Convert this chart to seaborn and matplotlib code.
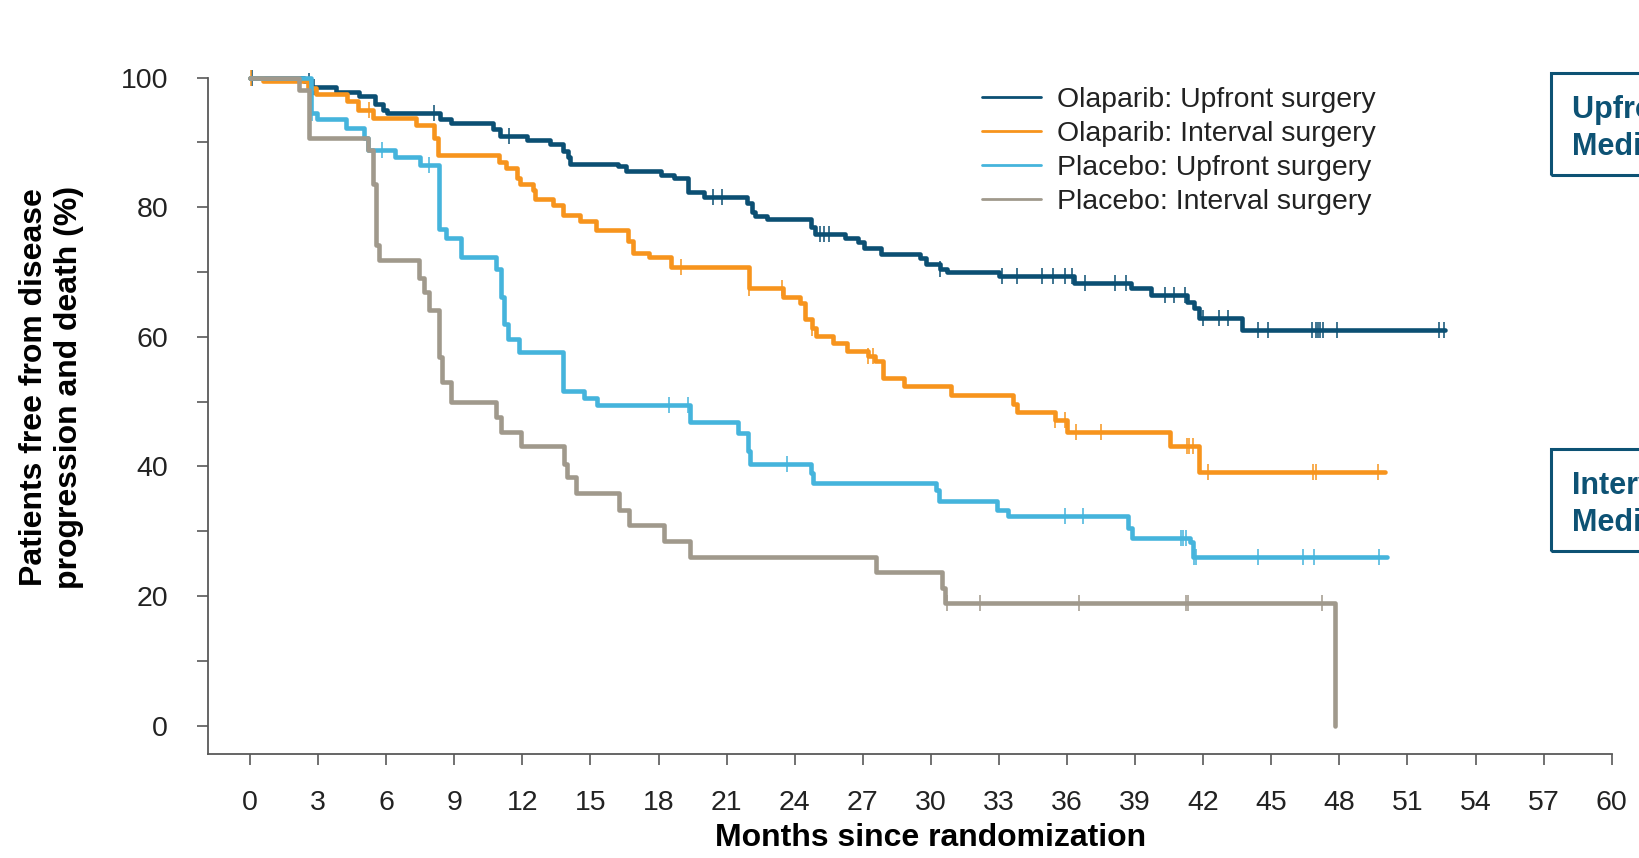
import numpy as np
import pandas as pd
import matplotlib
matplotlib.use("Agg")
import matplotlib.pyplot as plt
import seaborn as sns
from matplotlib.patches import Rectangle
from matplotlib.lines import Line2D

# ---------------- data ----------------
series_names = ["Olaparib: Upfront surgery", "Olaparib: Interval surgery",
                "Placebo: Upfront surgery", "Placebo: Interval surgery"]

ola_up_t = [0, 2.4, 2.7, 3.8, 4.8, 5.5, 5.85, 6.05, 8.35, 8.85, 10.7, 11.0, 12.2, 13.2, 13.8,
            14.0, 14.1, 16.2, 16.55, 18.1, 18.7, 19.3, 20.0, 21.9, 22.1, 22.25, 22.8, 24.7, 24.9,
            26.2, 26.8, 27.05, 27.8, 29.5, 29.8, 30.4, 30.7, 33.0, 36.3, 38.8, 39.7, 41.3, 41.6,
            41.8, 43.7, 52.65]
ola_up_s = [100, 99.4, 98.5, 97.7, 97.1, 95.9, 95.0, 94.5, 93.6, 93.0, 92.0, 90.9, 90.4, 89.7,
            88.7, 87.7, 86.6, 86.3, 85.6, 85.0, 84.5, 82.4, 81.5, 80.6, 79.3, 78.6, 78.2, 77.0,
            75.8, 75.3, 74.6, 73.7, 72.7, 72.2, 71.3, 70.4, 70.0, 69.4, 68.3, 67.5, 66.5, 65.4,
            64.5, 62.9, 61.0, 61.0]
ola_up_cens = [0.1, 2.6, 2.8, 8.1, 11.4, 20.4, 20.8, 25.1, 25.3, 25.5, 30.4, 33.15, 33.8, 34.9,
               35.4, 35.9, 36.2, 36.8, 38.1, 38.6, 40.3, 40.7, 41.2, 42.0, 42.7, 43.1, 44.4, 44.85,
               46.8, 46.95, 47.05, 47.15, 47.3, 47.9, 52.4, 52.6]

ola_int_t = [0, 0.56, 2.55, 2.9, 4.27, 4.74, 5.4, 7.31, 8.12, 8.27, 10.98, 11.28, 11.76, 11.91,
             12.45, 12.55, 13.33, 13.78, 14.55, 15.24, 16.64, 16.86, 17.6, 18.55, 21.98, 23.5,
             24.23, 24.47, 24.76, 24.93, 25.67, 26.3, 27.25, 27.56, 27.88, 28.83, 30.87, 33.6,
             33.78, 35.47, 36.0, 40.53, 41.83, 50.0]
ola_int_s = [100, 99.5, 98.4, 97.4, 96.4, 95.0, 93.7, 92.7, 90.6, 88.0, 86.9, 86.0, 84.5, 83.5,
             82.6, 81.2, 80.3, 78.8, 77.9, 76.5, 74.8, 73.0, 72.3, 70.8, 67.5, 66.2, 65.2, 62.8,
             61.4, 60.1, 59.0, 57.8, 57.0, 56.2, 53.6, 52.4, 51.0, 49.7, 48.4, 47.2, 45.3, 43.1,
             39.1, 39.1]
ola_int_cens = [0.05, 5.26, 19.0, 21.98, 23.45, 24.76, 27.25, 27.46, 35.47, 35.9, 36.4, 37.5,
                41.27, 41.37, 41.54, 42.2, 46.85, 46.96, 49.7]

pla_up_t = [0, 2.7, 2.95, 4.23, 5.04, 5.18, 6.4, 7.5, 8.34, 8.63, 9.3, 10.83, 11.05, 11.2, 11.35,
            11.87, 13.77, 14.7, 15.3, 19.4, 21.51, 21.95, 22.04, 24.71, 24.82, 30.22, 30.37, 32.9,
            33.4, 38.7, 38.85, 41.4, 41.55, 50.1]
pla_up_s = [100, 94.5, 93.6, 92.2, 90.6, 88.8, 87.8, 86.5, 76.7, 75.2, 72.3, 70.5, 66.1, 62.0,
            59.7, 57.7, 51.7, 50.5, 49.5, 46.8, 45.2, 42.4, 40.3, 39.0, 37.5, 36.4, 34.7, 33.2,
            32.3, 30.5, 29.0, 28.4, 26.1, 26.1]
pla_up_cens = [2.75, 5.8, 7.9, 18.47, 19.3, 23.65, 35.9, 36.7, 41.0, 41.1, 41.25, 41.6, 41.7,
               44.4, 46.4, 46.9, 49.76]

pla_int_t = [0, 2.17, 2.61, 5.18, 5.4, 5.55, 5.7, 7.46, 7.65, 7.9, 8.31, 8.44, 8.85, 10.84,
             11.05, 11.94, 13.82, 13.95, 14.36, 16.27, 16.71, 18.22, 19.40, 27.58, 30.47, 30.62,
             47.8]
pla_int_s = [100, 98.1, 90.6, 88.8, 83.5, 74.1, 71.8, 69.1, 66.9, 64.1, 56.9, 53.0, 50.0, 47.6,
             45.3, 43.2, 40.4, 38.3, 35.9, 33.3, 30.9, 28.5, 26.1, 23.7, 21.3, 19.0, 0.0]
pla_int_cens = [30.72, 32.17, 36.54, 41.24, 41.32, 47.25]

x_ticks = list(range(0, 61, 3))
y_ticks = [0, 20, 40, 60, 80, 100]
y_minor_ticks = [10, 30, 50, 70, 90]

box_titles = ["Upfront surgery", "Interval surgery"]
box_sub = ["Median PFS", "Median PFS"]

colors = ["#0b4f73", "#f7941d", "#45b4dc", "#a0998c"]
box_color = "#0d5274"

curves = [
    (ola_up_t, ola_up_s, ola_up_cens),
    (ola_int_t, ola_int_s, ola_int_cens),
    (pla_up_t, pla_up_s, pla_up_cens),
    (pla_int_t, pla_int_s, pla_int_cens),
]

# ---------------- style ----------------
sns.set_style("ticks")
plt.rcParams["font.family"] = ["Liberation Sans", "DejaVu Sans"]

W, H = 1640, 858
fig = plt.figure(figsize=(W / 100, H / 100), dpi=100)
ax = fig.add_axes([208.5 / W, 1 - 754 / H, (1611.7 - 208.5) / W, (754 - 77.5) / H])

# draw in reverse so Olaparib upfront sits on top
for i in [3, 2, 1, 0]:
    t, s, cens = curves[i]
    df = pd.DataFrame({"time": t, "surv": s})
    sns.lineplot(data=df, x="time", y="surv", ax=ax, color=colors[i], linewidth=3.3,
                 drawstyle="steps-post", estimator=None, legend=False,
                 clip_on=False, zorder=3 + i)
    t_arr = np.asarray(t)
    s_arr = np.asarray(s)
    idx = np.searchsorted(t_arr, np.asarray(cens), side="right") - 1
    cdf = pd.DataFrame({"time": cens, "surv": s_arr[idx]})
    sns.scatterplot(data=cdf, x="time", y="surv", ax=ax, marker="|", s=120,
                    linewidth=1.1, color=colors[i], legend=False, clip_on=False,
                    zorder=3 + i)

ax.set_xlim(-1.83, 60)
ax.set_ylim(-4.37, 100)
ax.set_xticks(x_ticks)
ax.set_xticklabels([str(v) for v in x_ticks])
ax.set_yticks(y_ticks)
ax.set_yticklabels([str(v) for v in y_ticks])
ax.set_yticks(y_minor_ticks, minor=True)

for side in ["top", "right"]:
    ax.spines[side].set_visible(False)
for side in ["left", "bottom"]:
    ax.spines[side].set_color("#595959")
    ax.spines[side].set_linewidth(1.3)

ax.tick_params(axis="both", which="both", direction="out", length=8, width=1.2,
               color="#595959", labelcolor="#222222", labelsize=20.5)
ax.tick_params(axis="x", which="both", pad=18)
ax.tick_params(axis="y", which="both", pad=21)

ax.set_xlabel("Months since randomization", fontsize=23, fontweight="bold", color="black")
ax.xaxis.set_label_coords(0.5146, -0.102)
ax.set_ylabel("Patients free from disease\nprogression and death (%)", fontsize=23,
              fontweight="bold", color="black")
ax.yaxis.set_label_coords(-0.089, 0.542)

handles = [Line2D([0], [0], color=c, lw=2.0) for c in colors]
leg = ax.legend(handles, series_names, loc="upper left",
                bbox_to_anchor=(982 / W, 1 - 87 / H), bbox_transform=fig.transFigure,
                frameon=False, fontsize=20.4, handlelength=2.08, handletextpad=0.56,
                labelspacing=0.28, borderpad=0, borderaxespad=0)
for txt in leg.get_texts():
    txt.set_color("#222222")

# boxes at the right (cut by figure edge as in the reference)
box_tops = [73, 449]
for k, top in enumerate(box_tops):
    rect = Rectangle((1551 / W, 1 - (top + 102) / H), 0.2, 102 / H, transform=fig.transFigure,
                     fill=False, edgecolor=box_color, lw=2.2)
    fig.patches.append(rect)
    fig.text(1572 / W, 1 - (top + 45) / H, box_titles[k], fontsize=22, fontweight="bold",
             color=box_color, ha="left", va="baseline")
    fig.text(1572 / W, 1 - (top + 82) / H, box_sub[k], fontsize=22, fontweight="bold",
             color=box_color, ha="left", va="baseline")

fig.savefig("out.png", dpi=100, facecolor="white")
